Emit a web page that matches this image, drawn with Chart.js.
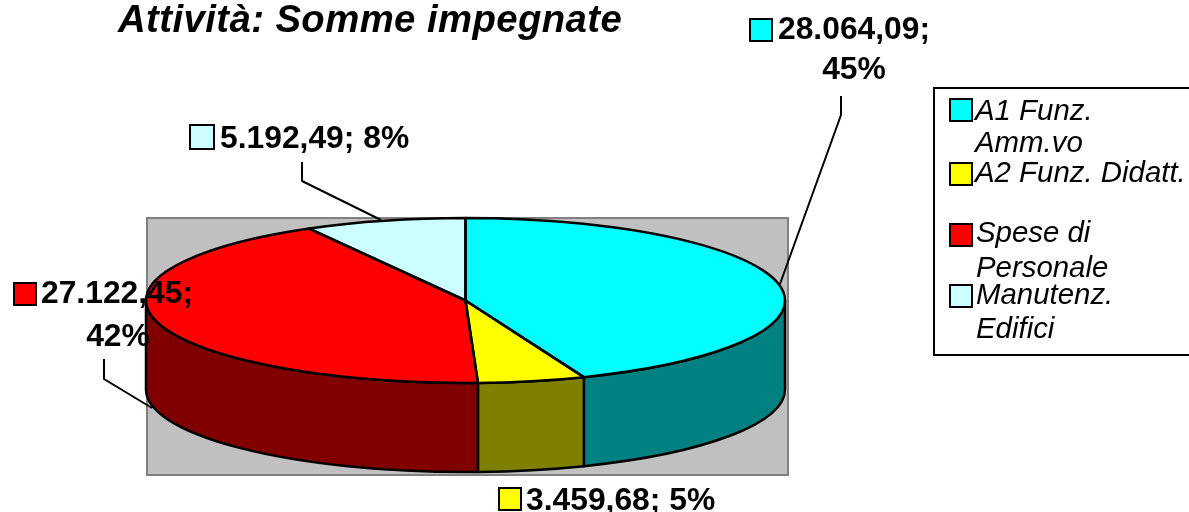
<!DOCTYPE html>
<html><head><meta charset="utf-8">
<style>html,body{margin:0;padding:0;background:#fff;overflow:hidden}canvas{display:block}</style>
<script src="https://cdn.jsdelivr.net/npm/chart.js@4/dist/chart.umd.min.js"></script>
</head><body>
<canvas id="c" width="1189" height="512"></canvas>
<script>
const titleText = 'Attività: Somme impegnate';
const categories = ['A1 Funz. Amm.vo', 'A2 Funz. Didatt.', 'Spese di Personale', 'Manutenz. Edifici'];
const values = [28064.09, 3459.68, 27122.45, 5192.49];
const percents = [45, 5, 42, 8];
const topColors = ['#00FFFF', '#FFFF00', '#FF0000', '#CCFFFF'];
const sideColors = ['#008080', '#808000', '#800000', '#668080'];

const FACE = {cx: 465.5, cy: 300.5, rx: 319.5, ry: 82.5, depth: 89};
const FONT = '"Liberation Sans", Arial, sans-serif';

function fmt(v) {
  const [i, d] = v.toFixed(2).split('.');
  return i.replace(/\B(?=(\d{3})+$)/g, '.') + ',' + d;
}
function swatch(ctx, x, y, s, color) {
  ctx.fillStyle = color; ctx.fillRect(x, y, s, s);
  ctx.strokeStyle = '#000'; ctx.lineWidth = 2; ctx.strokeRect(x, y, s, s);
}
function polyline(ctx, pts) {
  ctx.beginPath(); pts.forEach((p, i) => i ? ctx.lineTo(p[0], p[1]) : ctx.moveTo(p[0], p[1])); ctx.stroke();
}

// label placement, indexed like the categories
const labelLayout = [
  {sw: [750, 19, 22], lines: [[778, 39, 'start'], [854, 79, 'center']], split: true, leader: [[841, 96], [841, 115], [780, 284]]},
  {sw: [499, 488, 22], lines: [[526, 510, 'start']], split: false, leader: null},
  {sw: [14, 283, 22], lines: [[41, 303, 'start'], [118, 346, 'center']], split: true, leader: [[104, 359], [104, 379], [152, 408]]},
  {sw: [190, 125, 24], lines: [[220, 148, 'start']], split: false, leader: [[302, 162], [302, 181], [381, 220]]}
];
const legendBox = {x: 934, y: 88, w: 270, h: 267};
const legendLayout = [
  {sw: [950, 99, 22], lines: [[975, 120, 'A1 Funz.'], [975, 152, 'Amm.vo']]},
  {sw: [950, 163, 22], lines: [[975, 182, 'A2 Funz. Didatt.']]},
  {sw: [950, 224, 22], lines: [[976, 242, 'Spese di'], [976, 277, 'Personale']]},
  {sw: [950, 285, 22], lines: [[976, 304, 'Manutenz.'], [976, 338, 'Edifici']]}
];

const pie3d = {
  id: 'pie3d',
  beforeDraw(chart) {
    const {ctx, chartArea: a} = chart;
    ctx.save();
    ctx.fillStyle = '#fff'; ctx.fillRect(0, 0, chart.width, chart.height);
    ctx.fillStyle = '#C0C0C0'; ctx.fillRect(a.left, a.top, a.right - a.left, a.bottom - a.top);
    ctx.strokeStyle = '#808080'; ctx.lineWidth = 2;
    ctx.strokeRect(a.left, a.top, a.right - a.left, a.bottom - a.top);
    ctx.restore();
  },
  beforeDatasetsDraw(chart) {
    const ctx = chart.ctx, arcs = chart.getDatasetMeta(0).data;
    ctx.save();
    ctx.lineWidth = 2.5; ctx.strokeStyle = '#000'; ctx.lineJoin = 'round';
    arcs.forEach((arc, i) => {
      const s = Math.max(arc.startAngle, 0), e = Math.min(arc.endAngle, Math.PI);
      if (s >= e) return;
      ctx.beginPath();
      ctx.ellipse(FACE.cx, FACE.cy, FACE.rx, FACE.ry, 0, s, e);
      ctx.ellipse(FACE.cx, FACE.cy + FACE.depth, FACE.rx, FACE.ry, 0, e, s, true);
      ctx.closePath();
      ctx.fillStyle = sideColors[i]; ctx.fill(); ctx.stroke();
    });
    ctx.restore();
    const a0 = arcs[0];
    ctx.save();
    ctx.translate(FACE.cx, FACE.cy);
    ctx.scale(FACE.rx / a0.outerRadius, FACE.ry / a0.outerRadius);
    ctx.translate(-a0.x, -a0.y);
  },
  afterDatasetsDraw(chart) {
    const ctx = chart.ctx, arcs = chart.getDatasetMeta(0).data;
    ctx.restore();
    ctx.save();
    ctx.lineWidth = 2.5; ctx.strokeStyle = '#000'; ctx.lineJoin = 'round';
    arcs.forEach(arc => {
      ctx.beginPath();
      ctx.moveTo(FACE.cx, FACE.cy);
      ctx.ellipse(FACE.cx, FACE.cy, FACE.rx, FACE.ry, 0, arc.startAngle, arc.endAngle);
      ctx.closePath();
      ctx.stroke();
    });
    ctx.lineWidth = 2;
    labelLayout.forEach(l => { if (l.leader) polyline(ctx, l.leader); });
    ctx.restore();
  },
  afterDraw(chart) {
    const ctx = chart.ctx;
    ctx.save();
    ctx.textBaseline = 'alphabetic';
    ctx.fillStyle = '#000';
    ctx.font = 'italic bold 38.3px ' + FONT;
    ctx.textAlign = 'left';
    ctx.letterSpacing = '0.42px';
    ctx.fillText(titleText, 118, 32);
    ctx.letterSpacing = '0px';

    labelLayout.forEach((l, i) => {
      swatch(ctx, l.sw[0], l.sw[1], l.sw[2], topColors[i]);
      const first = fmt(values[i]) + ';', pct = percents[i] + '%';
      const texts = l.split ? [first, pct] : [first + ' ' + pct];
      ctx.font = 'bold 31.8px ' + FONT;
      ctx.fillStyle = '#000';
      texts.forEach((t, k) => {
        ctx.textAlign = l.lines[k][2];
        ctx.fillText(t, l.lines[k][0], l.lines[k][1]);
      });
    });

    ctx.strokeStyle = '#000'; ctx.lineWidth = 2;
    ctx.strokeRect(legendBox.x, legendBox.y, legendBox.w, legendBox.h);
    legendLayout.forEach((l, i) => {
      swatch(ctx, l.sw[0], l.sw[1], l.sw[2], topColors[i]);
      ctx.font = 'italic 29.4px ' + FONT;
      ctx.fillStyle = '#000';
      ctx.textAlign = 'left';
      l.lines.forEach(p => ctx.fillText(p[2], p[0], p[1]));
    });
    ctx.restore();
  }
};

new Chart(document.getElementById('c'), {
  type: 'pie',
  data: {
    labels: categories,
    datasets: [{data: values, backgroundColor: topColors, borderWidth: 0, clip: false}]
  },
  options: {
    responsive: false,
    animation: false,
    events: [],
    layout: {padding: {left: 147, right: 401, top: 218, bottom: 37}},
    plugins: {legend: {display: false}, tooltip: {enabled: false}, title: {display: false}}
  },
  plugins: [pie3d]
});
</script>
</body></html>
